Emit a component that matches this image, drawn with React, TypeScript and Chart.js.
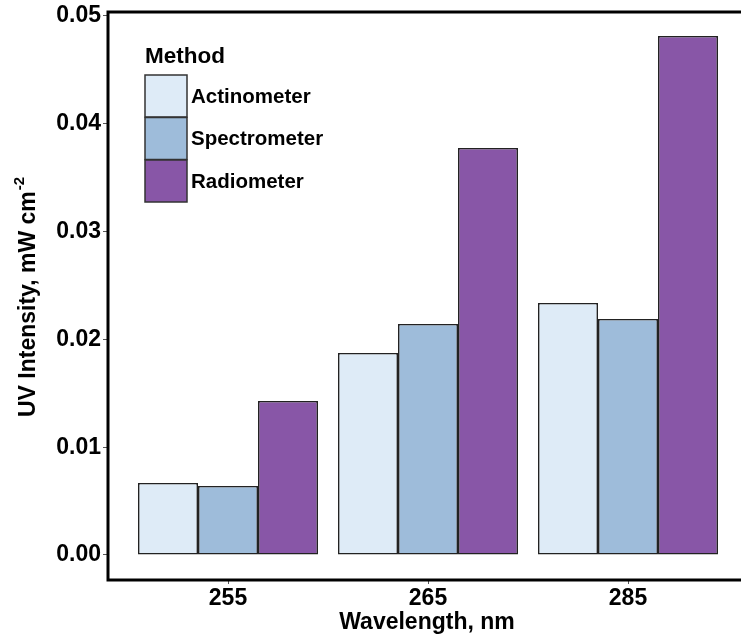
import React, { useEffect, useRef } from 'react';
import { Chart, registerables } from 'chart.js';

Chart.register(...registerables);

const wavelengths = ['255', '265', '285'];
const methods = ['Actinometer', 'Spectrometer', 'Radiometer'];
const actinometer = [0.00668, 0.01874, 0.02338];
const spectrometer = [0.0064, 0.02143, 0.02189];
const radiometer = [0.01429, 0.03776, 0.04815];
const yTicks = [0, 0.01, 0.02, 0.03, 0.04, 0.05];
const colors = ['#deebf7', '#9ebcda', '#8856a7'];

const FONT = '"Liberation Sans", Arial, Helvetica, sans-serif';

const decorPlugin = {
  id: 'decor',
  afterDraw(chart: any) {
    const { ctx, chartArea: a } = chart;
    ctx.save();
    // panel border
    ctx.strokeStyle = '#000';
    ctx.lineWidth = 3;
    ctx.strokeRect(a.left, a.top, a.right - a.left, a.bottom - a.top);

    ctx.fillStyle = '#000';
    // legend
    ctx.textAlign = 'left';
    ctx.textBaseline = 'alphabetic';
    ctx.font = `bold 22.5px ${FONT}`;
    ctx.fillText('Method', 145, 63);
    const ds = chart.data.datasets;
    ds.forEach((d: any, i: number) => {
      const y = 75 + i * 42.5;
      ctx.fillStyle = d.backgroundColor;
      ctx.fillRect(145, y, 42, 42);
      ctx.strokeStyle = '#333';
      ctx.lineWidth = 1.5;
      ctx.strokeRect(145, y, 42, 42);
      ctx.fillStyle = '#000';
      ctx.font = `bold 20.5px ${FONT}`;
      ctx.textBaseline = 'middle';
      ctx.fillText(d.label, 191, y + 22);
    });

    // x title
    ctx.textBaseline = 'alphabetic';
    ctx.textAlign = 'center';
    ctx.font = `bold 23px ${FONT}`;
    ctx.fillText('Wavelength, nm', 427, 629);

    // y title with superscript
    ctx.save();
    ctx.translate(35, 297);
    ctx.rotate(-Math.PI / 2);
    ctx.textAlign = 'left';
    const main = 'UV Intensity, mW cm';
    const sup = '-2';
    ctx.font = `bold 23px ${FONT}`;
    const w1 = ctx.measureText(main).width;
    ctx.font = `bold 15px ${FONT}`;
    const w2 = ctx.measureText(sup).width;
    const start = -(w1 + w2 + 1) / 2;
    ctx.font = `bold 23px ${FONT}`;
    ctx.fillText(main, start, 0);
    ctx.font = `bold 15px ${FONT}`;
    ctx.fillText(sup, start + w1 + 1, -11);
    ctx.restore();

    ctx.restore();
  },
};

export default function App() {
  const ref = useRef<HTMLCanvasElement>(null);
  useEffect(() => {
    const series = [actinometer, spectrometer, radiometer];
    const chart = new Chart(ref.current as HTMLCanvasElement, {
      type: 'bar',
      data: {
        labels: wavelengths,
        datasets: methods.map((m, i) => ({
          label: m,
          data: series[i],
          backgroundColor: colors[i],
          borderColor: '#222',
          borderWidth: 1.6,
          borderSkipped: false,
          categoryPercentage: 0.9,
          barPercentage: 1.0,
        })),
      },
      options: {
        animation: false,
        responsive: false,
        devicePixelRatio: 1,
        layout: { padding: { top: 12, right: 12, left: 0, bottom: 0 } },
        plugins: {
          legend: { display: false },
          tooltip: { enabled: false },
          title: { display: false },
        },
        scales: {
          x: {
            type: 'category',
            offset: false,
            grid: {
              offset: false,
              drawOnChartArea: false,
              drawTicks: true,
              tickLength: 4,
              color: '#555',
              lineWidth: 1,
            },
            border: { display: false },
            ticks: {
              color: '#000',
              font: { family: FONT, size: 23, weight: 'bold' },
              padding: 1,
              maxRotation: 0,
              autoSkip: false,
            },
            afterBuildTicks: (scale: any) => {
              scale._startValue = -0.6;
              scale._valueRange = 3.2;
            },
            afterFit: (scale: any) => {
              scale.height = 59;
              scale.paddingLeft = 0;
              scale.paddingRight = 0;
            },
          },
          y: {
            type: 'linear',
            min: -0.00232,
            max: 0.05037,
            grid: {
              drawOnChartArea: false,
              drawTicks: true,
              tickLength: 5,
              color: '#555',
              lineWidth: 1,
            },
            border: { display: false },
            ticks: {
              color: '#000',
              font: { family: FONT, size: 23, weight: 'bold' },
              padding: 2,
              callback: (v: any) => Number(v).toFixed(2),
            },
            afterBuildTicks: (scale: any) => {
              scale.ticks = yTicks.map((v) => ({ value: v }));
            },
            afterFit: (scale: any) => {
              scale.width = 108;
              scale.paddingTop = 0;
              scale.paddingBottom = 0;
            },
          },
        },
      } as any,
      plugins: [decorPlugin],
    });
    return () => chart.destroy();
  }, []);
  return (
    <div
      style={{
        position: 'absolute',
        left: 0,
        top: 0,
        width: 741,
        height: 639,
        overflow: 'hidden',
        background: '#fff',
      }}
    >
      <canvas ref={ref} width={760} height={639} style={{ display: 'block', width: 760, height: 639 }} />
    </div>
  );
}
